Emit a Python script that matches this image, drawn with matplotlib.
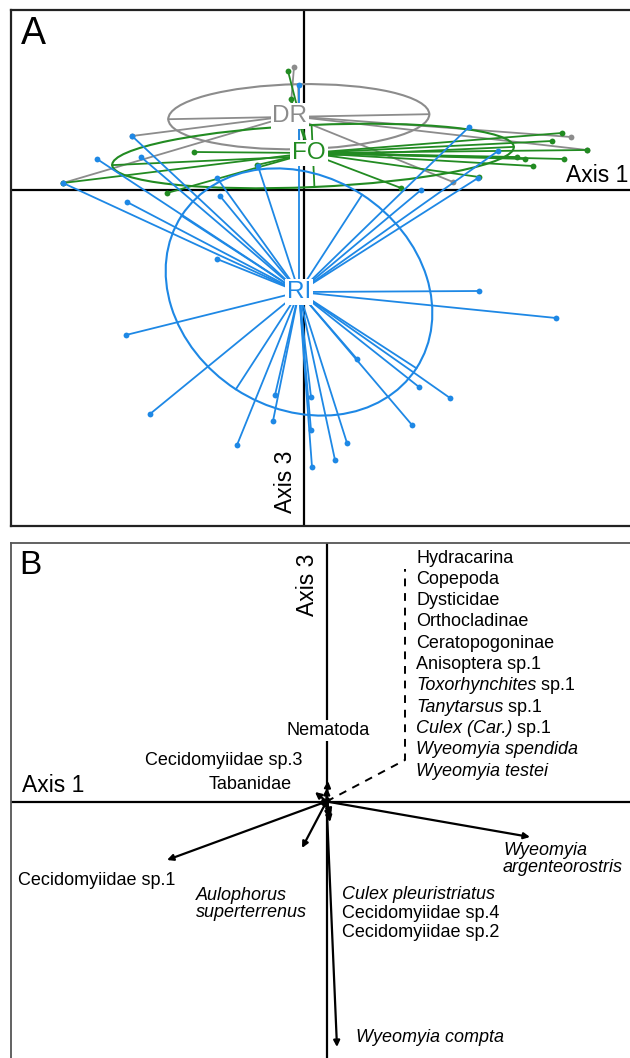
import numpy as np
import matplotlib
matplotlib.use('Agg')
import matplotlib.pyplot as plt
from matplotlib.patches import Ellipse

plt.rcParams['font.family'] = ['Liberation Sans', 'DejaVu Sans']

# ---------------- Panel A data (site scores on axes 1 and 3) ----------------
groups = ['DR', 'FO', 'RI']
group_colors = ['#8c8c8c', '#228b22', '#1e88e5']

centroid_x = [-0.14, 0.05, -0.05]
centroid_y = [0.74, 0.37, -1.02]

dr_x = [-0.10, -2.41, -1.72, 2.67, 2.83, 1.49]
dr_y = [1.23, 0.07, 0.54, 0.53, 0.40, 0.08]

fo_x = [-0.16, -0.13, -1.10, -2.41, -1.37, -0.47, 2.58, 2.48, 2.83, 2.13, 2.21, 2.60, 2.29, 1.75, 0.97]
fo_y = [1.19, 0.91, 0.38, 0.07, -0.03, 0.25, 0.57, 0.49, 0.40, 0.33, 0.31, 0.31, 0.24, 0.13, 0.02]

ri_x = [-1.72, -2.07, -1.63, -2.41, -0.87, -1.77, -0.84, -0.46, -0.87, -0.05,
        1.65, 1.94, 1.74, 1.17, 1.75, 2.52, -1.78,
        -1.54, -0.67, -0.31, -0.29, 0.07, 0.07, 0.08, 0.31, 0.43, 0.53, 1.15, 1.46, 1.08]
ri_y = [0.54, 0.31, 0.33, 0.07, 0.12, -0.12, -0.06, 0.24, -0.69, 1.05,
        0.63, 0.39, 0.12, 0.00, -1.01, -1.28, -1.45,
        -2.24, -2.55, -2.31, -2.05, -2.07, -2.40, -2.77, -2.70, -2.53, -1.69, -1.97, -2.08, -2.35]

ell_cx = [-0.052, 0.09, -0.05]
ell_cy = [0.733, 0.34, -1.02]
ell_w = [2.61, 4.02, 2.80]
ell_h = [0.65, 0.62, 2.32]
ell_angle = [1.1, 2.6, -33.0]

# ---------------- Panel B data (species vectors) ----------------
species = ['Cecidomyiidae sp.1', 'Aulophorus superterrenus', 'Wyeomyia argenteorostris',
           'Wyeomyia compta', 'Culex pleuristriatus', 'Cecidomyiidae sp.4',
           'Cecidomyiidae sp.2', 'Nematoda', 'Cecidomyiidae sp.3', 'Tabanidae',
           'Hydracarina', 'Copepoda', 'Dysticidae', 'Orthocladinae', 'Ceratopogoninae',
           'Anisoptera sp.1', 'Toxorhynchites sp.1', 'Tanytarsus sp.1', 'Culex (Car.) sp.1',
           'Wyeomyia spendida', 'Wyeomyia testei']
sp_x = [-1.595, -0.245, 2.035, 0.105, 0.035, 0.045, 0.025, 0.015, -0.115, 0.005,
        0.03, 0.04, 0.02, 0.05, 0.03, 0.02, 0.04, 0.03, 0.05, 0.02, 0.04]
sp_y = [-0.585, -0.465, -0.355, -2.455, -0.205, -0.135, -0.165, 0.205, 0.095, 0.135,
        0.03, 0.02, 0.04, 0.03, 0.05, 0.02, 0.01, 0.04, 0.02, 0.03, 0.02]

# list of taxa pooled at the origin (italic part, regular part)
list_it = ['', '', '', '', '', '', 'Toxorhynchites', 'Tanytarsus', 'Culex (Car.)',
           'Wyeomyia spendida', 'Wyeomyia testei']
list_rm = ['Hydracarina', 'Copepoda', 'Dysticidae', 'Orthocladinae', 'Ceratopogoninae',
           'Anisoptera sp.1', ' sp.1', ' sp.1', ' sp.1', '', '']

# ---------------- Figure ----------------
fig = plt.figure(figsize=(6.3, 10.58), dpi=100)
fig.patch.set_facecolor('white')

W, H = 630.0, 1058.0
axA = fig.add_axes([11 / W, 1 - 526 / H, 629 / W, 516 / H])
axB = fig.add_axes([11 / W, 1 - 1070 / H, 629 / W, 527.5 / H])

for ax, lw, col in [(axA, 1.6, '#222222'), (axB, 1.3, '#555555')]:
    ax.set_xticks([])
    ax.set_yticks([])
    for s in ax.spines.values():
        s.set_linewidth(lw)
        s.set_color(col)
    ax.axhline(0, color='black', lw=1.6, zorder=1)
    ax.axvline(0, color='black', lw=1.6, zorder=1)

# ---- Panel A ----
axA.set_xlim(-2.93, 3.36)
axA.set_ylim(-3.36, 1.80)

pts = [(dr_x, dr_y), (fo_x, fo_y), (ri_x, ri_y)]
for i, (g, c) in enumerate(zip(groups, group_colors)):
    xs, ys = pts[i]
    cx, cy = centroid_x[i], centroid_y[i]
    z = 2 + i
    for x, y in zip(xs, ys):
        axA.plot([cx, x], [cy, y], color=c, lw=1.3, zorder=z, solid_capstyle='round')
    axA.plot(xs, ys, 'o', color=c, ms=4.2, zorder=z, mec='none')
    # ellipse with its axes
    e = Ellipse((ell_cx[i], ell_cy[i]), ell_w[i], ell_h[i], angle=ell_angle[i],
                fill=False, ec=c, lw=1.5, zorder=z)
    axA.add_patch(e)
    a = np.deg2rad(ell_angle[i])
    ux, uy = np.cos(a), np.sin(a)
    vx, vy = -np.sin(a), np.cos(a)
    hw, hh = ell_w[i] / 2, ell_h[i] / 2
    axA.plot([ell_cx[i] - hw * ux, ell_cx[i] + hw * ux],
             [ell_cy[i] - hw * uy, ell_cy[i] + hw * uy], color=c, lw=1.3, zorder=z)
    axA.plot([ell_cx[i] - hh * vx, ell_cx[i] + hh * vx],
             [ell_cy[i] - hh * vy, ell_cy[i] + hh * vy], color=c, lw=1.3, zorder=z)

for i, (g, c) in enumerate(zip(groups, group_colors)):
    axA.text(centroid_x[i], centroid_y[i], g, color=c, fontsize=17.5, ha='center', va='center',
             zorder=10, bbox=dict(boxstyle='square,pad=0.08', fc='white', ec='none'))

axA.text(-2.71, 1.565, 'A', fontsize=27, ha='center', va='center')
axA.text(2.62, 0.15, 'Axis 1', fontsize=16.5, ha='left', va='center', zorder=12)
axA.text(-0.18, -2.915, 'Axis 3', fontsize=16.5, ha='center', va='center', rotation=90)

# ---- Panel B ----
axB.set_xlim(-3.155, 3.135)
axB.set_ylim(-2.685, 2.59)

for x, y in zip(sp_x, sp_y):
    axB.annotate('', xy=(x, y), xytext=(0, 0),
                 arrowprops=dict(arrowstyle='-|>', color='black', lw=1.6,
                                 mutation_scale=9, shrinkA=0, shrinkB=0),
                 zorder=4)

# dashed leader to the pooled list
axB.plot([0.0, 0.785, 0.785], [0.0, 0.415, 2.325], color='black', lw=1.4,
         ls=(0, (4, 3.5)), zorder=3)

fs = 13
row_y0, row_dy = 2.435, 0.213
for k in range(len(list_rm)):
    y = row_y0 - k * row_dy
    if list_it[k]:
        t = axB.text(0.895, y, list_it[k], fontsize=fs, style='italic', ha='left', va='center')
        if list_rm[k]:
            axB.annotate(list_rm[k], xy=(1, 0), xycoords=t, ha='left', va='bottom', fontsize=fs)
    else:
        axB.text(0.895, y, list_rm[k], fontsize=fs, ha='left', va='center')

axB.text(-0.405, 0.708, 'Nematoda', fontsize=fs, ha='left', va='center', zorder=6,
         bbox=dict(boxstyle='square,pad=0.1', fc='white', ec='none'))
axB.text(-1.815, 0.415, 'Cecidomyiidae sp.3', fontsize=fs, ha='left', va='center')
axB.text(-1.175, 0.175, 'Tabanidae', fontsize=fs, ha='left', va='center')
axB.text(-3.085, -0.785, 'Cecidomyiidae sp.1', fontsize=fs, ha='left', va='center')
axB.text(-1.305, -1.025, 'Aulophorus\nsuperterrenus', fontsize=fs, style='italic',
         ha='left', va='center', linespacing=1.0)
axB.text(0.15, -0.928, 'Culex pleuristriatus', fontsize=fs, style='italic', ha='left', va='center')
axB.text(0.15, -1.115, 'Cecidomyiidae sp.4', fontsize=fs, ha='left', va='center')
axB.text(0.15, -1.305, 'Cecidomyiidae sp.2', fontsize=fs, ha='left', va='center')
axB.text(1.765, -0.575, 'Wyeomyia\nargenteorostris', fontsize=fs, style='italic',
         ha='left', va='center', linespacing=1.0)
axB.text(0.291, -2.362, 'Wyeomyia compta', fontsize=fs, style='italic', ha='left', va='center')

axB.text(-2.965, 2.365, 'B', fontsize=24, ha='center', va='center')
axB.text(-3.045, 0.165, 'Axis 1', fontsize=16.5, ha='left', va='center')
axB.text(-0.19, 2.165, 'Axis 3', fontsize=16.5, ha='center', va='center', rotation=90)

fig.savefig('out.png', dpi=100, facecolor='white')
